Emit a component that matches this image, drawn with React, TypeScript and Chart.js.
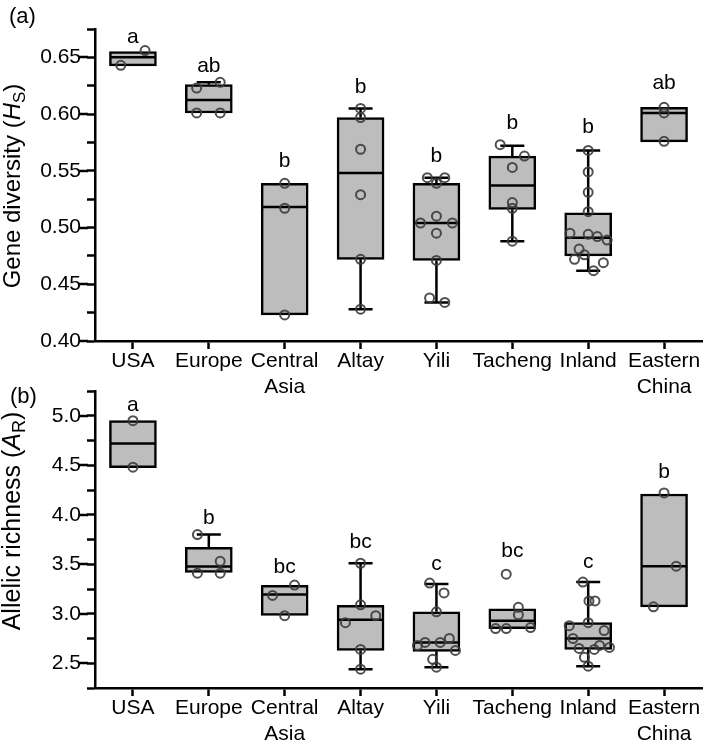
import React, { useEffect, useRef } from 'react';
import { Chart, registerables } from 'chart.js';

Chart.register(...registerables);

const FONT = '"Liberation Sans", Arial, Helvetica, sans-serif';
const LW = 2.5;

// ---------- data ----------
const categories: (string | string[])[] = [
  'USA', 'Europe', ['Central', 'Asia'], 'Altay', 'Yili', 'Tacheng', 'Inland', ['Eastern', 'China'],
];

// Panel (a) Gene diversity (Hs)
const q1A = [0.6425, 0.601, 0.423, 0.472, 0.471, 0.516, 0.475, 0.5755];
const medianA = [0.650, 0.6125, 0.518, 0.548, 0.504, 0.537, 0.491, 0.601];
const q3A = [0.655, 0.626, 0.539, 0.597, 0.539, 0.563, 0.513, 0.606];
const whiskerLowA = [null, null, null, 0.428, 0.434, 0.488, 0.462, null];
const whiskerHighA = [null, 0.628, null, 0.605, 0.544, 0.572, 0.568, null];
const lettersA = ['a', 'ab', 'b', 'b', 'b', 'b', 'b', 'ab'];
const letterAtA = [0.6628, 0.6372, 0.5534, 0.6187, 0.5578, 0.587, 0.5834, 0.6222];
const pointsA = [
  [0.656, 0.643],
  [0.623, 0.628, 0.601, 0.601],
  [0.539, 0.517, 0.423],
  [0.605, 0.597, 0.569, 0.529, 0.472, 0.428],
  [0.544, 0.544, 0.539, 0.510, 0.504, 0.504, 0.495, 0.471, 0.438, 0.434],
  [0.573, 0.563, 0.553, 0.522, 0.517, 0.488],
  [0.568, 0.549, 0.531, 0.514, 0.495, 0.494, 0.492, 0.489, 0.481, 0.476, 0.472, 0.469, 0.462],
  [0.606, 0.601, 0.576],
];
// horizontal jitter of each point, in category widths
const jitterA = [
  [0.16, -0.16],
  [-0.16, 0.15, -0.16, 0.15],
  [0, 0, 0],
  [0, 0, 0, 0, 0, 0],
  [-0.12, 0.11, 0, 0, -0.21, 0.21, 0, 0, -0.09, 0.11],
  [-0.16, 0.16, 0, 0, 0, 0],
  [0, 0, 0, 0, -0.24, 0, 0.12, 0.25, -0.12, -0.05, -0.18, 0.2, 0.07],
  [0, 0, 0],
];

// Panel (b) Allelic richness (AR)
const q1B = [4.476, 3.417, 2.984, 2.63, 2.62, 2.85, 2.64, 3.07];
const medianB = [4.72, 3.478, 3.195, 2.94, 2.71, 2.93, 2.75, 3.48];
const q3B = [4.95, 3.67, 3.286, 3.085, 3.02, 3.05, 2.91, 4.21];
const whiskerLowB = [null, null, null, 2.44, 2.46, null, 2.47, null];
const whiskerHighB = [null, 3.80, null, 3.51, 3.30, null, 3.32, null];
const lettersB = ['a', 'b', 'bc', 'bc', 'c', 'bc', 'c', 'b'];
const letterAtB = [5.05, 3.91, 3.41, 3.66, 3.44, 3.57, 3.46, 4.375];
const pointsB = [
  [4.95, 4.48],
  [3.80, 3.53, 3.41, 3.41],
  [3.29, 3.185, 2.98],
  [3.51, 3.09, 2.98, 2.91, 2.64, 2.44],
  [3.31, 3.21, 3.02, 2.68, 2.71, 2.71, 2.75, 2.63, 2.54, 2.46],
  [3.40, 3.065, 2.99, 2.85, 2.85, 2.86],
  [3.32, 3.13, 3.13, 2.91, 2.88, 2.83, 2.75, 2.65, 2.64, 2.66, 2.56, 2.68, 2.47],
  [4.22, 3.48, 3.07],
];
const jitterB = [
  [0, 0],
  [-0.15, 0.15, -0.15, 0.15],
  [0.13, -0.16, 0],
  [0, 0, 0.2, -0.2, 0, 0],
  [-0.09, 0.1, 0, -0.25, -0.15, 0.05, 0.17, 0.25, -0.05, 0],
  [-0.08, 0.08, 0.08, -0.22, -0.08, 0.24],
  [-0.07, 0.01, 0.09, 0, -0.25, 0.21, -0.2, -0.12, 0.08, 0.28, -0.05, 0.15, 0],
  [0, 0.16, -0.14],
];

const yTicksA = { min: 0.4, max: 0.675, step: 0.025, major: 0.05, decimals: 2 };
const yTicksB = { min: 2.25, max: 5.25, step: 0.25, major: 0.5, decimals: 1 };

// ---------- plugin ----------
const boxPlugin = {
  id: 'boxExtras',
  afterDatasetDraw(chart: any, args: any, opts: any) {
    if (args.index !== 1) return;
    const ctx = chart.ctx;
    const y = chart.scales.y;
    const meta = chart.getDatasetMeta(1);
    ctx.save();
    ctx.strokeStyle = '#000';
    ctx.lineWidth = LW;
    meta.data.forEach((bar: any, i: number) => {
      const { x, width } = bar.getProps(['x', 'width'], true);
      const left = x - width / 2 + 1;
      const right = x + width / 2 - 1;
      const ym = y.getPixelForValue(opts.median[i]);
      ctx.beginPath();
      ctx.moveTo(left, ym);
      ctx.lineTo(right, ym);
      ctx.stroke();
      const capHalf = 12;
      const hi = opts.high[i];
      if (hi !== null && hi !== undefined) {
        const y3 = y.getPixelForValue(opts.q3[i]);
        const yh = y.getPixelForValue(hi);
        ctx.beginPath();
        ctx.moveTo(x, y3);
        ctx.lineTo(x, yh);
        ctx.moveTo(x - capHalf, yh);
        ctx.lineTo(x + capHalf, yh);
        ctx.stroke();
      }
      const lo = opts.low[i];
      if (lo !== null && lo !== undefined) {
        const y1 = y.getPixelForValue(opts.q1[i]);
        const yl = y.getPixelForValue(lo);
        ctx.beginPath();
        ctx.moveTo(x, y1);
        ctx.lineTo(x, yl);
        ctx.moveTo(x - capHalf, yl);
        ctx.lineTo(x + capHalf, yl);
        ctx.stroke();
      }
    });
    ctx.restore();
  },
  afterDraw(chart: any, _args: any, opts: any) {
    const ctx = chart.ctx;
    const x = chart.scales.x;
    const y = chart.scales.y;
    const area = chart.chartArea;
    ctx.save();
    // significance letters
    ctx.fillStyle = '#000';
    ctx.font = `21px ${FONT}`;
    ctx.textAlign = 'center';
    ctx.textBaseline = 'alphabetic';
    opts.letters.forEach((t: string, i: number) => {
      ctx.fillText(t, x.getPixelForValue(i), y.getPixelForValue(opts.letterAt[i]));
    });
    // longer major ticks
    ctx.strokeStyle = '#000';
    ctx.lineWidth = LW;
    y.ticks.forEach((tk: any) => {
      const r = tk.value / opts.major;
      if (Math.abs(r - Math.round(r)) < 1e-6) {
        const py = Math.round(y.getPixelForValue(tk.value));
        ctx.beginPath();
        ctx.moveTo(area.left - 16, py);
        ctx.lineTo(area.left - 7, py);
        ctx.stroke();
      }
    });
    // y title with italic symbol and subscript
    ctx.translate(opts.titleX, opts.titleY);
    ctx.rotate(-Math.PI / 2);
    ctx.textAlign = 'left';
    const size = opts.titleSize;
    const segs = [
      { t: opts.titleMain, f: `${size}px ${FONT}`, dy: 0 },
      { t: opts.titleSym, f: `italic ${size}px ${FONT}`, dy: 0 },
      { t: opts.titleSub, f: `${Math.round(size * 0.7)}px ${FONT}`, dy: 5 },
      { t: ')', f: `${size}px ${FONT}`, dy: 0 },
    ];
    let total = 0;
    segs.forEach((s) => { ctx.font = s.f; total += ctx.measureText(s.t).width; });
    let cx = -total / 2;
    segs.forEach((s) => {
      ctx.font = s.f;
      ctx.fillText(s.t, cx, s.dy);
      cx += ctx.measureText(s.t).width;
    });
    ctx.restore();
    // panel label
    ctx.save();
    ctx.fillStyle = '#000';
    ctx.font = `22px ${FONT}`;
    ctx.textAlign = 'left';
    ctx.textBaseline = 'alphabetic';
    ctx.fillText(opts.panel, opts.panelX, opts.panelY);
    ctx.restore();
  },
};

function buildConfig(p: any) {
  const scatterData: any[] = [];
  p.points.forEach((vals: number[], i: number) => {
    vals.forEach((v, k) => scatterData.push({ x: i + p.jitter[i][k], y: v }));
  });
  const barData = p.q1.map((lo: number, i: number) => ({ x: i, y: [lo, p.q3[i]] }));
  return {
    type: 'bar',
    data: {
      datasets: [
        {
          type: 'scatter',
          data: scatterData,
          xAxisID: 'x',
          yAxisID: 'y',
          pointRadius: 4.5,
          pointBorderWidth: 2,
          pointBorderColor: 'rgba(60,60,60,0.9)',
          pointBackgroundColor: 'rgba(0,0,0,0)',
        },
        {
          type: 'bar',
          data: barData,
          xAxisID: 'x',
          yAxisID: 'y',
          backgroundColor: '#bdbdbd',
          borderColor: '#000',
          borderWidth: LW,
          borderSkipped: false,
          grouped: false,
          barThickness: 47,
        },
      ],
    },
    options: {
      responsive: false,
      animation: false,
      devicePixelRatio: 1,
      layout: { padding: { top: p.padTop, right: 7, left: 0, bottom: 0 } },
      plugins: {
        legend: { display: false },
        tooltip: { enabled: false },
        boxExtras: {
          median: p.median, q1: p.q1, q3: p.q3, low: p.low, high: p.high,
          letters: p.letters, letterAt: p.letterAt, major: p.ticks.major,
          titleMain: p.titleMain, titleSym: p.titleSym, titleSub: p.titleSub,
          titleX: 20, titleY: p.titleY, titleSize: p.titleSize,
          panel: p.panel, panelX: p.panelX, panelY: p.panelY,
        },
      },
      scales: {
        x: {
          type: 'linear',
          min: -0.5,
          max: categories.length - 0.5,
          offset: false,
          afterBuildTicks: (s: any) => { s.ticks = categories.map((_, i) => ({ value: i })); },
          afterFit: (s: any) => { s.height = p.xHeight; },
          border: { display: true, color: '#000', width: LW },
          grid: { offset: false, drawOnChartArea: false, drawTicks: true, tickLength: 8, tickColor: '#000', tickWidth: LW },
          ticks: {
            padding: 0,
            color: '#000',
            autoSkip: false,
            maxRotation: 0,
            font: { family: FONT, size: 21, lineHeight: 1.2 },
            callback: (v: number) => categories[Math.round(v)] ?? '',
          },
        },
        y: {
          type: 'linear',
          min: p.ticks.min,
          max: p.ticks.max,
          afterFit: (s: any) => { s.width = 95; },
          border: { display: true, color: '#000', width: LW },
          grid: { drawOnChartArea: false, drawTicks: true, tickLength: 8, tickColor: '#000', tickWidth: LW },
          ticks: {
            stepSize: p.ticks.step,
            autoSkip: false,
            padding: 6,
            color: '#000',
            font: { family: FONT, size: 21 },
            callback: (v: number) => {
              const r = v / p.ticks.major;
              return Math.abs(r - Math.round(r)) < 1e-6 ? v.toFixed(p.ticks.decimals) : '';
            },
          },
        },
      },
    },
    plugins: [boxPlugin],
  };
}

const panelA = {
  q1: q1A, q3: q3A, median: medianA, low: whiskerLowA, high: whiskerHighA,
  letters: lettersA, letterAt: letterAtA, points: pointsA, jitter: jitterA, ticks: yTicksA,
  titleMain: 'Gene diversity (', titleSym: 'H', titleSub: 'S', titleY: 186, titleSize: 24,
  panel: '(a)', panelX: 9, panelY: 23, padTop: 29, xHeight: 59,
};
const panelB = {
  q1: q1B, q3: q3B, median: medianB, low: whiskerLowB, high: whiskerHighB,
  letters: lettersB, letterAt: letterAtB, points: pointsB, jitter: jitterB, ticks: yTicksB,
  titleMain: 'Allelic richness (', titleSym: 'A', titleSub: 'R', titleY: 151, titleSize: 25,
  panel: '(b)', panelX: 10, panelY: 33, padTop: 21, xHeight: 60,
};

function Panel({ cfg, top, height }: { cfg: any; top: number; height: number }) {
  const ref = useRef<HTMLCanvasElement | null>(null);
  useEffect(() => {
    if (!ref.current) return;
    const chart = new Chart(ref.current, buildConfig(cfg) as any);
    return () => chart.destroy();
  }, [cfg]);
  return (
    <canvas
      ref={ref}
      width={709}
      height={height}
      style={{ position: 'absolute', left: 0, top, width: 709, height }}
    />
  );
}

export default function App() {
  return (
    <div style={{ position: 'absolute', left: 0, top: 0, width: 709, height: 748, background: '#fff' }}>
      <Panel cfg={panelA} top={0} height={400} />
      <Panel cfg={panelB} top={370} height={378} />
    </div>
  );
}
